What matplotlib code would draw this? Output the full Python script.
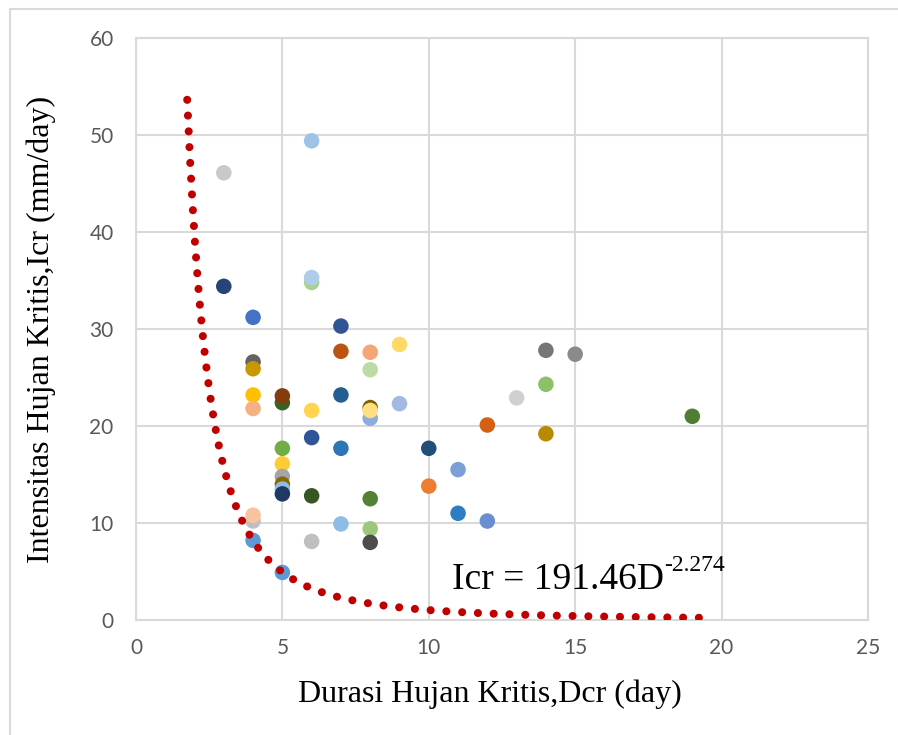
import numpy as np
import matplotlib.pyplot as plt
from matplotlib.patches import Rectangle

# Critical rain duration (day) and intensity (mm/day), one point per event
dcr = [3, 3, 4, 4, 4, 4, 4, 4, 4, 4,
       5, 5, 5, 5, 5, 5, 5, 5, 5,
       6, 6, 6, 6, 6, 6, 6,
       7, 7, 7, 7, 7,
       8, 8, 8, 8, 8, 8, 8, 8,
       9, 9, 10, 10, 11, 11, 12, 12, 13, 14, 14, 14, 15, 19]
icr = [46.1, 34.4, 31.2, 26.6, 25.9, 23.2, 21.8, 10.2, 10.8, 8.2,
       22.4, 23.1, 17.7, 16.1, 14.8, 14.0, 13.5, 13.0, 4.9,
       49.4, 34.8, 35.3, 21.6, 18.8, 12.8, 8.1,
       30.3, 27.7, 23.2, 17.7, 9.9,
       27.6, 25.8, 21.9, 20.8, 21.6, 12.5, 9.4, 8.0,
       28.4, 22.3, 17.7, 13.8, 15.5, 11.0, 20.1, 10.2, 22.9, 27.8, 24.3, 19.2, 27.4, 21.0]
colors = ['#C9C9C9', '#264478', '#4472C4', '#636363', '#C99700', '#FFC000', '#F4B183', '#BFBFBF', '#F8C39E', '#5B9BD5',
          '#3B6122', '#843C0C', '#70AD47', '#FFCD33', '#A5A5A5', '#8A6A00', '#8FBCE6', '#203864', '#5B9BD5',
          '#9DC3E6', '#A9D18E', '#ADCDEB', '#FFD54F', '#2F5597', '#375623', '#BFBFBF',
          '#2F5597', '#BA5410', '#255E91', '#2E75B6', '#8FBCE6',
          '#F4A674', '#BBDCA5', '#7F6000', '#8FAADC', '#FFDF80', '#548235', '#9DC87C', '#4D4D4D',
          '#FFD966', '#A3B9E3', '#1F4E79', '#ED7D31', '#7D9FD9', '#2E7CC1', '#D55F12', '#6A8FD0',
          '#D0D0D0', '#767676', '#8CC168', '#B88A00', '#8A8A8A', '#4E7D33']

# power trendline from Excel
coef, expo = 191.46, -2.274
d_fit = np.linspace(1.75, 19.75, 400)
i_fit = coef * d_fit ** expo

fig = plt.figure(figsize=(8.98, 7.35), dpi=100)
ax = fig.add_axes([0.1514, 0.1565, 0.8152, 0.7918])

# chart area border (cut off on right/bottom like the source)
fig.patches.append(Rectangle((0.011, -0.02), 1.0, 1.008, transform=fig.transFigure,
                             fill=False, edgecolor='#D9D9D9', linewidth=1.5))

ax.scatter(dcr, icr, s=125, c=colors, linewidths=0, zorder=3)
ax.plot(d_fit, i_fit, color='#C00000', linewidth=5.8, linestyle=(0, (0.01, 1.95)),
        dash_capstyle='round', zorder=4)

ax.set_xlim(0, 25)
ax.set_ylim(0, 60)
ax.set_xticks(range(0, 26, 5))
ax.set_yticks(range(0, 61, 10))
ax.grid(True, color='#D9D9D9', linewidth=1.5)
ax.set_axisbelow(True)
for s in ax.spines.values():
    s.set_color('#D9D9D9')
    s.set_linewidth(1.5)

ax.tick_params(length=0, labelcolor='#595959', labelsize=15)
ax.tick_params(axis='x', pad=13)
ax.tick_params(axis='y', pad=16)
for lab in ax.get_xticklabels() + ax.get_yticklabels():
    lab.set_family('Lato')

ax.set_xlabel('Durasi Hujan Kritis,Dcr (day)', family='Liberation Serif', fontsize=23)
ax.xaxis.set_label_coords(0.484, -0.102)
ax.set_ylabel('Intensitas Hujan Kritis,Icr (mm/day)', family='Liberation Serif', fontsize=23, labelpad=24)

eq = ax.text(10.8, 3.2, 'Icr = 191.46D', family='Liberation Serif',
             fontsize=27, color='black', zorder=5)
ax.annotate('-2.274', xy=(1.0, 0.62), xycoords=eq, family='Liberation Serif',
            fontsize=17, color='black', va='bottom', ha='left', zorder=5)

fig.savefig('out.png', dpi=100)
